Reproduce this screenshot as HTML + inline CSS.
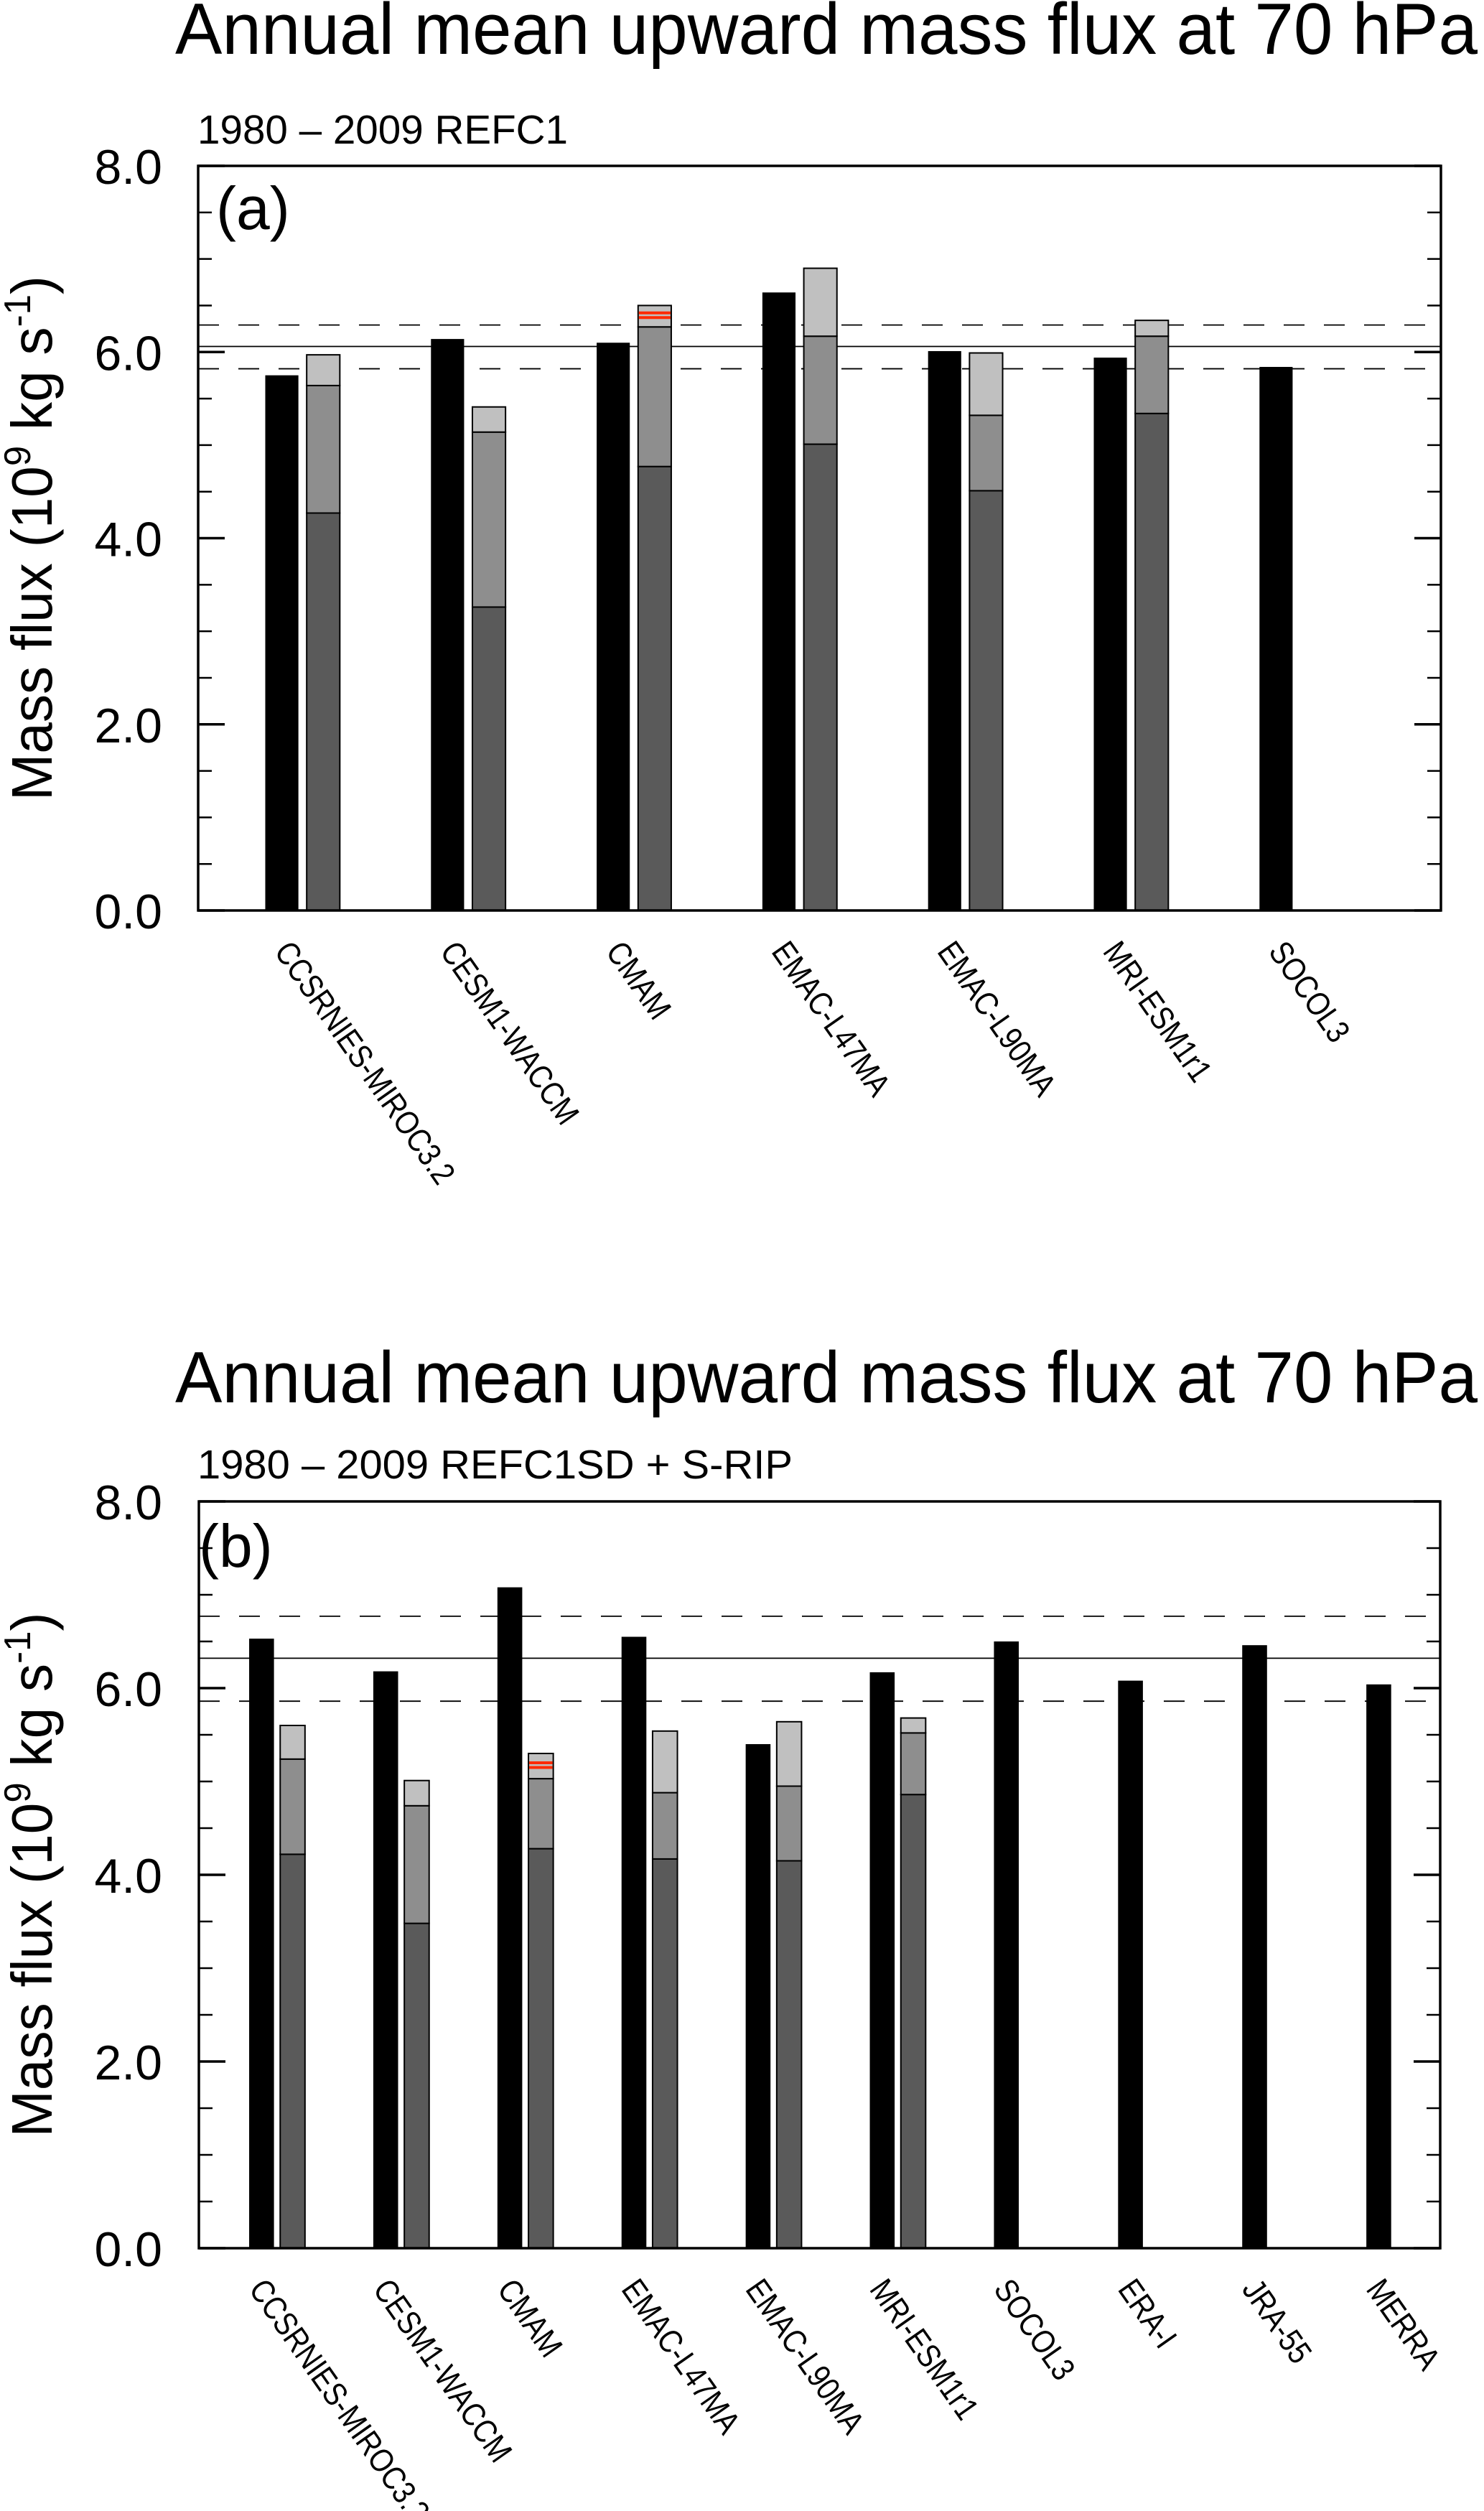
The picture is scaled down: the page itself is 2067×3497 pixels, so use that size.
<!DOCTYPE html>
<html><head><meta charset="utf-8"><style>
html,body{margin:0;padding:0;background:#fff;}
svg{display:block;font-family:"Liberation Sans",sans-serif;}
</style></head><body>
<svg id="fig" width="2067" height="3497" viewBox="0 0 2067 3497" xmlns="http://www.w3.org/2000/svg"></svg>
<script>
// ---- Panel (a) data ----
const catsA = ["CCSRNIES-MIROC3.2","CESM1-WACCM","CMAM","EMAC-L47MA","EMAC-L90MA","MRI-ESM1r1","SOCOL3"];
const blackA = [5.75,6.14,6.10,6.64,6.01,5.94,5.84];
const darkA  = [4.27,3.26,4.77,5.01,4.51,5.34,null];
const midA   = [5.64,5.14,6.27,6.17,5.32,6.17,null];
const lightA = [5.97,5.41,6.50,6.90,5.99,6.34,null];
const redA   = [null,null,[6.42,6.37],null,null,null,null];
const refA   = [6.06,6.29,5.82]; // mean, upper, lower
// ---- Panel (b) data ----
const catsB = ["CCSRNIES-MIROC3.2","CESM1-WACCM","CMAM","EMAC-L47MA","EMAC-L90MA","MRI-ESM1r1","SOCOL3","ERA-I","JRA-55","MERRA"];
const blackB = [6.53,6.18,7.08,6.55,5.40,6.17,6.50,6.08,6.46,6.04];
const darkB  = [4.22,3.48,4.28,4.17,4.15,4.86,null,null,null,null];
const midB   = [5.24,4.74,5.03,4.88,4.95,5.52,null,null,null,null];
const lightB = [5.60,5.01,5.30,5.54,5.64,5.68,null,null,null,null];
const redB   = [null,null,[5.20,5.15],null,null,null,null,null,null,null];
const refB   = [6.32,6.77,5.86];
const yTicks = [0,2,4,6,8];
const yTickLabels = ["0.0","2.0","4.0","6.0","8.0"];

const NS="http://www.w3.org/2000/svg";
const svg=document.getElementById('fig');
function el(tag,attrs,parent){const e=document.createElementNS(NS,tag);for(const k in attrs)e.setAttribute(k,attrs[k]);(parent||svg).appendChild(e);return e;}

function panel(cfg){
  const g=el('g',{});
  
  
  const L=cfg.L,R=cfg.R,T=cfg.T,B=cfg.B;
  const y=v=>B-(v/8)*(B-T);
  const sw=(R-L)/cfg.slots;
  const cx=i=>L+sw*(i+0.5)+0.13*sw;
  const bw=0.2*sw;
  const t=el('text',{x:244,y:cfg.titleY,'font-size':101,textLength:1814,lengthAdjust:'spacingAndGlyphs'},g);
  t.textContent="Annual mean upward mass flux at 70 hPa";
  
  
  const st=el('text',{x:275,y:cfg.subY,'font-size':57,textLength:cfg.subLen,lengthAdjust:'spacingAndGlyphs'},g);
  st.textContent=cfg.sub;
  
  
  const lines=[[cfg.ref[0],null],[cfg.ref[1],'29 27'],[cfg.ref[2],'29 27']];
  lines.forEach((ln,k)=>{
    const a={x1:L,x2:R,y1:y(ln[0]),y2:y(ln[0]),stroke:'#000','stroke-width':1.8};
    if(ln[1])a['stroke-dasharray']=ln[1];
    const l=el('line',a,g);
    
    
  });
  cfg.cats.forEach((c,i)=>{
    const xc=cx(i);
    const b=el('rect',{x:xc-0.025*sw-bw,y:y(cfg.black[i]),width:bw,height:y(0)-y(cfg.black[i]),fill:'#000'},g);
    
    
    if(cfg.dark[i]!=null){
      const gx=xc+0.025*sw;
      const segs=[[0,cfg.dark[i],'#5a5a5a'],[cfg.dark[i],cfg.mid[i],'#8e8e8e'],[cfg.mid[i],cfg.light[i],'#c0c0c0']];
      segs.forEach((s,k)=>{
        const r=el('rect',{x:gx,y:y(s[1]),width:bw,height:y(s[0])-y(s[1]),fill:s[2],stroke:'#000','stroke-width':2},g);
        
        
      });
      if(cfg.red[i]){
        cfg.red[i].forEach(v=>{
          const rl=el('line',{x1:gx+1,x2:gx+bw-1,y1:y(v),y2:y(v),stroke:'#ff2a00','stroke-width':4},g);
          
          
        });
      }
    }
    const lx=xc-13, ly=B+38;
    const lt=el('text',{x:lx,y:ly,'font-size':46,'dominant-baseline':'hanging',transform:`rotate(55 ${lx} ${ly})`},g);
    lt.textContent=c;
    
    
    const w=lt.getComputedTextLength();
    lt.setAttribute('textLength',(w*0.85).toFixed(1));
    lt.setAttribute('lengthAdjust','spacingAndGlyphs');
  });
  const f=el('rect',{x:L,y:T,width:R-L,height:B-T,fill:'none',stroke:'#000','stroke-width':3.5},g);
  
  
  for(let v=0;v<=8.001;v+=0.5){
    const major=Math.abs(v-Math.round(v/2)*2)<1e-6;
    const len=major?37:19;
    el('line',{x1:L,x2:L+len,y1:y(v),y2:y(v),stroke:'#000','stroke-width':major?3.5:2.5},g);
    el('line',{x1:R-len,x2:R,y1:y(v),y2:y(v),stroke:'#000','stroke-width':major?3.5:2.5},g);
  }
  yTicks.forEach((v,k)=>{
    const tl=el('text',{x:226,y:y(v)+25,'font-size':68,'text-anchor':'end'},g);
    tl.textContent=yTickLabels[k];
    
    
  });
  const pl=el('text',{x:cfg.letX,y:cfg.letY,'font-size':84},g);
  pl.textContent=cfg.letter;
  
  
  const mid=(T+B)/2;
  const yt=el('text',{x:0,y:0,'font-size':80,'text-anchor':'middle',transform:`translate(72 ${mid}) rotate(-90)`,textLength:731,lengthAdjust:'spacingAndGlyphs'},g);
  
  
  const s1=el('tspan',{},yt);s1.textContent="Mass flux  (10";
  const s2=el('tspan',{dy:-30,'font-size':52},yt);s2.textContent="9";
  const s3=el('tspan',{dy:30},yt);s3.textContent=" kg s";
  const s4=el('tspan',{dy:-30,'font-size':52},yt);s4.textContent="-1";
  const s5=el('tspan',{dy:30},yt);s5.textContent=")";
}

panel({name:'panel-a',L:276,R:2007,T:231,B:1268,slots:7.5,cats:catsA,black:blackA,dark:darkA,mid:midA,light:lightA,red:redA,ref:refA,
  titleY:75,subY:200,sub:"1980 \u2013 2009 REFC1",subLen:516,letter:"(a)",letX:301,letY:319});
panel({name:'panel-b',L:277,R:2006,T:2091,B:3131,slots:10,cats:catsB,black:blackB,dark:darkB,mid:midB,light:lightB,red:redB,ref:refB,
  titleY:1953,subY:2059,sub:"1980 \u2013 2009 REFC1SD + S-RIP",subLen:829,letter:"(b)",letX:277,letY:2182});
</script>
</body></html>
